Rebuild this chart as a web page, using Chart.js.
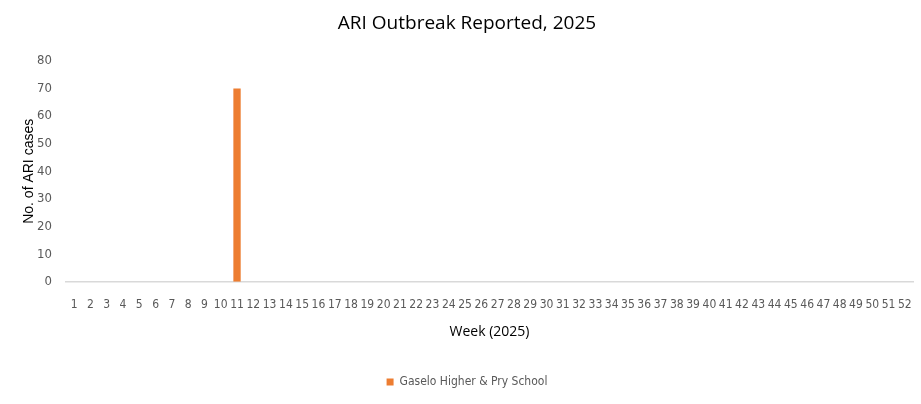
<!DOCTYPE html>
<html>
<head>
<meta charset="utf-8">
<script src="https://cdn.jsdelivr.net/npm/chart.js@4"></script>
<style>
  html, body { margin: 0; padding: 0; background: #fff; }
  #wrap { width: 921px; height: 404px; }
</style>
</head>
<body>
<div id="wrap"><canvas id="ariChart" width="921" height="404"></canvas></div>
<script>
// semanas 1..52
const weeks = [];
for (let w = 1; w <= 52; w++) weeks.push(String(w));

// casos por semana (só semana 11 tem surto)
const gaseloCases = [0,0,0,0,0,0,0,0,0,0,70,0,0,0,0,0,0,0,0,0,0,0,0,0,0,0,
                     0,0,0,0,0,0,0,0,0,0,0,0,0,0,0,0,0,0,0,0,0,0,0,0,0,0];

const yTicks = [0, 10, 20, 30, 40, 50, 60, 70, 80];

const narrow = "'DejaVu Sans Condensed', 'Liberation Sans Narrow', 'Open Sans', sans-serif";
const grey = '#595959';

const ctx = document.getElementById('ariChart').getContext('2d');
new Chart(ctx, {
  type: 'bar',
  data: {
    labels: weeks,
    datasets: [{
      label: 'Gaselo Higher & Pry School',
      data: gaseloCases,
      backgroundColor: '#ed7d31',
      borderWidth: 0,
      barPercentage: 0.45,
      categoryPercentage: 1
    }]
  },
  options: {
    responsive: false,
    animation: false,
    layout: { padding: { left: 21, right: 8, top: 6, bottom: 6 } },
    plugins: {
      title: {
        display: true,
        text: 'ARI Outbreak Reported, 2025',
        color: '#000',
        font: { family: 'Open Sans', size: 19, weight: 'normal' },
        padding: { top: 6, bottom: 26 }
      },
      legend: {
        position: 'bottom',
        labels: {
          color: grey,
          boxWidth: 7,
          boxHeight: 7,
          padding: 6,
          font: { family: narrow, size: 12 }
        }
      },
      tooltip: { enabled: false }
    },
    scales: {
      x: {
        grid: { display: false },
        border: { display: true, color: '#d9d9d9', width: 1.5 },
        ticks: {
          color: grey,
          font: { family: narrow, size: 12 },
          autoSkip: false,
          maxRotation: 0,
          minRotation: 0,
          padding: 8
        },
        title: {
          display: true,
          text: 'Week (2025)',
          color: '#000',
          font: { family: 'Open Sans', size: 14 },
          padding: { top: 3, bottom: 30 }
        }
      },
      y: {
        min: 0,
        max: 80,
        afterBuildTicks: (axis) => { axis.ticks = yTicks.map(v => ({ value: v })); },
        afterFit: (axis) => { axis.width = 45; },
        grid: { display: false, drawTicks: false },
        border: { display: false },
        ticks: { color: grey, font: { family: narrow, size: 13 }, padding: 14 },
        title: {
          display: true,
          text: 'No. of ARI cases',
          color: '#000',
          font: { family: 'Liberation Sans', size: 14 },
          padding: 0
        }
      }
    }
  }
});
</script>
</body>
</html>
